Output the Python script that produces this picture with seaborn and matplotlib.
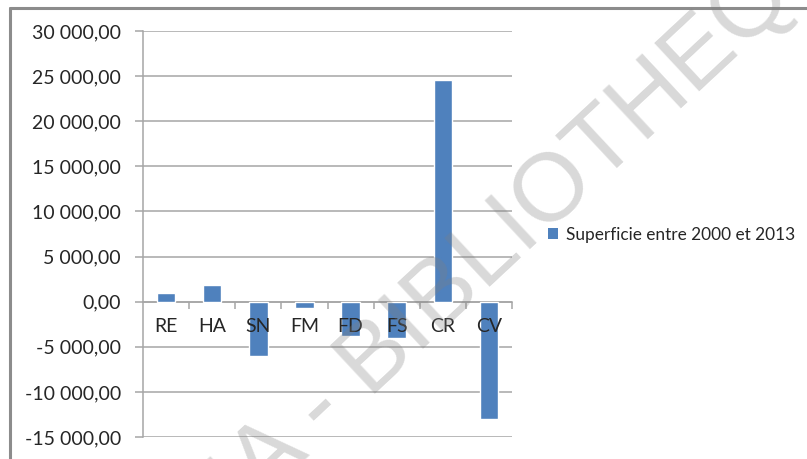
import matplotlib
matplotlib.use("Agg")
import matplotlib.pyplot as plt
import matplotlib.ticker as mticker
from matplotlib.lines import Line2D
from matplotlib.patches import Patch
import seaborn as sns
import pandas as pd

categories = ["RE", "HA", "SN", "FM", "FD", "FS", "CR", "CV"]
values = [1000, 1800, -6000, -700, -3800, -4000, 24600, -13000]
series_name = "Superficie entre 2000 et 2013"
y_ticks = [-15000, -10000, -5000, 0, 5000, 10000, 15000, 20000, 25000, 30000]

sns.set_theme(style="white")
plt.rcParams["font.family"] = ["Lato", "DejaVu Sans"]

BAR = "#4F81BD"
GRID = "#a6a6a6"
TEXT = "#262626"

df = pd.DataFrame({"cat": categories, "val": values})

fig = plt.figure(figsize=(8.07, 4.59), dpi=100)
ax = fig.add_axes([143 / 807, 1 - 437 / 459, 369 / 807, 406 / 459])

sns.barplot(data=df, x="cat", y="val", color=BAR, width=0.4,
            saturation=1, ax=ax, zorder=3, order=categories)

ax.set_ylim(-15000, 30000)
ax.set_xlim(-0.5, len(categories) - 0.5)
ax.set_yticks(y_ticks)


def fr_fmt(v, _pos):
    s = f"{abs(v):,.2f}".replace(",", " ").replace(".", ",")
    return ("-" if v < 0 else "") + s


ax.yaxis.set_major_formatter(mticker.FuncFormatter(fr_fmt))
ax.set_xlabel("")
ax.set_ylabel("")

# horizontal grid behind the bars, category labels in front of them
ax.set_axisbelow(True)
ax.yaxis.grid(True, color=GRID, linewidth=1.1)
ax.xaxis.grid(False)
ax.xaxis.set_zorder(5)

for side in ("top", "right"):
    ax.spines[side].set_visible(False)
ax.spines["left"].set_color(GRID)
ax.spines["left"].set_linewidth(1.1)
ax.spines["bottom"].set_position(("data", 0))
ax.spines["bottom"].set_color(GRID)
ax.spines["bottom"].set_linewidth(1.1)
ax.spines["bottom"].set_zorder(2)

ax.tick_params(axis="y", which="major", direction="out", length=6,
               width=1.1, color=GRID, labelsize=14, labelcolor=TEXT, pad=10,
               left=True)
ax.set_xticks(range(len(categories)))
ax.set_xticklabels(categories)
ax.tick_params(axis="x", which="major", length=0, labelsize=14,
               labelcolor=TEXT, pad=12)
ax.xaxis.set_minor_locator(mticker.FixedLocator(
    [i + 0.5 for i in range(len(categories))]))
ax.tick_params(axis="x", which="minor", direction="out", length=5,
               width=1.1, color=GRID, bottom=True)

# legend
handle = Patch(facecolor=BAR, edgecolor="none")
fig.legend([handle], [series_name], loc="center left",
           bbox_to_anchor=(532 / 807, 1 - 235 / 459), frameon=False,
           handlelength=0.6, handleheight=0.6, handletextpad=0.45,
           fontsize=12.4, labelcolor=TEXT)

# chart-area border (left and top edges)
fig.add_artist(Line2D([10 / 807, 10 / 807], [0, 1 - 8 / 459],
                      transform=fig.transFigure, color="#8c8c8c", lw=2.2))
fig.add_artist(Line2D([10 / 807, 1], [1 - 8 / 459, 1 - 8 / 459],
                      transform=fig.transFigure, color="#8c8c8c", lw=2.2))

# library watermark
fig.text(400 / 807, 1 - 336 / 459, "CODESRIA - BIBLIOTHEQUE",
         rotation=43, fontsize=70, color="#808080", alpha=0.3,
         ha="center", va="center", family=["Liberation Sans", "DejaVu Sans"],
         rotation_mode="anchor", zorder=10)

fig.savefig("out.png", dpi=100)
